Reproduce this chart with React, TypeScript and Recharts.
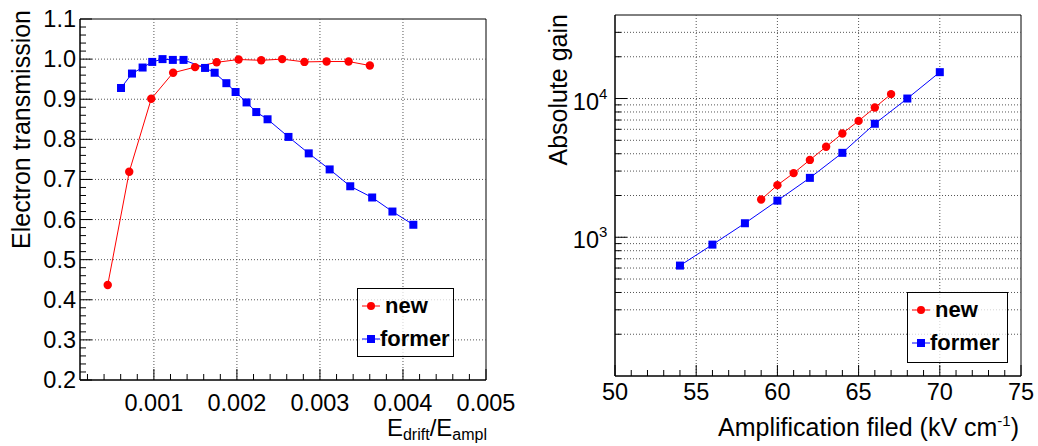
import React from "react";
import { LineChart, Line, XAxis, YAxis, ReferenceLine, ReferenceArea } from "recharts";

// left panel: electron transmission vs E_drift/E_ampl
const ratioNew = [0.000444, 0.000703, 0.000968, 0.001232, 0.001496, 0.001756, 0.00202, 0.002293, 0.002545, 0.002813, 0.00308, 0.003345, 0.003601];
const transNew = [0.437, 0.719, 0.901, 0.966, 0.98, 0.992, 0.999, 0.997, 1.0, 0.993, 0.994, 0.994, 0.984];
const ratioFormer = [0.000604, 0.000736, 0.000864, 0.00098, 0.001104, 0.001228, 0.001357, 0.001616, 0.001732, 0.001873, 0.001984, 0.002116, 0.002233, 0.002369, 0.002621, 0.002865, 0.003117, 0.003365, 0.003629, 0.003873, 0.004125];
const transFormer = [0.928, 0.964, 0.979, 0.993, 1.0, 0.998, 0.998, 0.978, 0.966, 0.94, 0.918, 0.892, 0.868, 0.85, 0.806, 0.765, 0.725, 0.683, 0.655, 0.62, 0.587];

// right panel: absolute gain vs amplification field
const fieldNew = [59, 60, 61, 62, 63, 64, 65, 66, 67];
const gainNew = [1870, 2375, 2900, 3610, 4490, 5600, 6900, 8610, 10760];
const fieldFormer = [54, 56, 58, 60, 62, 64, 66, 68, 70];
const gainFormer = [625, 885, 1262, 1836, 2680, 4060, 6580, 10000, 15490];

// axes
const leftXMajor = [0.001, 0.002, 0.003, 0.004, 0.005];
const leftXLabels = ["0.001", "0.002", "0.003", "0.004", "0.005"];
const leftYMajor = [0.2, 0.3, 0.4, 0.5, 0.6, 0.7, 0.8, 0.9, 1.0, 1.1];
const leftYLabels = ["0.2", "0.3", "0.4", "0.5", "0.6", "0.7", "0.8", "0.9", "1.0", "1.1"];
const rightXMajor = [50, 55, 60, 65, 70, 75];
const rightXLabels = ["50", "55", "60", "65", "70", "75"];
const rightYMajor = [1000, 10000];
const rightYExp = ["3", "4"];
const rightYGrid = [200, 300, 400, 500, 600, 700, 800, 900, 1000, 2000, 3000, 4000, 5000, 6000, 7000, 8000, 9000, 10000, 20000, 30000];

const leftXTicks = Array.from({ length: 25 }, (_, i) => Math.round((i + 1) * 2) / 10000);
const leftYTicks = Array.from({ length: 46 }, (_, i) => Math.round(20 + i * 2) / 100);
const rightXTicks = Array.from({ length: 26 }, (_, i) => 50 + i);

const FONT = "'Liberation Sans', Arial, Helvetica, sans-serif";
const GRID = "#555";

const near = (arr: number[], v: number) => arr.findIndex((m) => Math.abs(m - v) < 1e-9 * Math.max(1, Math.abs(m)));

const bottomTick = (majors: number[], labels: string[], dy: number) => (props: any) => {
  const { x, y, payload } = props;
  const i = near(majors, payload.value);
  return (
    <g>
      <line x1={x} x2={x} y1={y} y2={y - (i >= 0 ? 11 : 6)} stroke="#000" />
      {i >= 0 && (
        <text x={x} y={y + dy} textAnchor="middle" fontSize={23.5} fontFamily={FONT} fill="#000">
          {labels[i]}
        </text>
      )}
    </g>
  );
};

const leftTick = (props: any) => {
  const { x, y, payload } = props;
  const i = near(leftYMajor, payload.value);
  return (
    <g>
      <line x1={x} x2={x + (i >= 0 ? 12 : 6)} y1={y} y2={y} stroke="#000" />
      {i >= 0 && (
        <text x={x - 4} y={y + 8} textAnchor="end" fontSize={23.5} fontFamily={FONT} fill="#000">
          {leftYLabels[i]}
        </text>
      )}
    </g>
  );
};

const logTick = (props: any) => {
  const { x, y, payload } = props;
  const i = near(rightYMajor, payload.value);
  return (
    <g>
      <line x1={x} x2={x + (i >= 0 ? 12 : 6)} y1={y} y2={y} stroke="#000" />
      {i >= 0 && (
        <text x={x - 16} y={y + 11} textAnchor="end" fontSize={23.5} fontFamily={FONT} fill="#000">
          10
        </text>
      )}
      {i >= 0 && (
        <text x={x - 16} y={y} textAnchor="start" fontSize={15} fontFamily={FONT} fill="#000">
          {rightYExp[i]}
        </text>
      )}
    </g>
  );
};

const Circle = (props: any) => <circle key={props.index} cx={props.cx} cy={props.cy} r={4.2} fill="#ff0000" />;
const Square = (props: any) => <rect key={props.index} x={props.cx - 4} y={props.cy - 4} width={8} height={8} fill="#0000ff" />;

const LegendBox = ({ left, top, width, height }: { left: number; top: number; width: number; height: number }) => (
  <div
    style={{
      position: "absolute",
      left,
      top,
      width,
      height,
      boxSizing: "border-box",
      border: "1px solid #000",
      background: "rgba(255,255,255,0.75)",
      fontFamily: FONT,
      fontWeight: "bold",
      fontSize: 22,
    }}
  >
    {[
      { name: "new", color: "#ff0000", dx: 27 },
      { name: "former", color: "#0000ff", dx: 22 },
    ].map((e, k) => (
      <div key={e.name} style={{ position: "absolute", left: 0, top: k === 0 ? 4 : 37, height: 26, width: "100%" }}>
        <svg width={20} height={26} style={{ position: "absolute", left: 3, top: 0 }}>
          <line x1={1} x2={19} y1={13} y2={13} stroke={e.color} />
          {k === 0 ? <circle cx={10} cy={13} r={4} fill={e.color} /> : <rect x={6} y={9} width={8} height={8} fill={e.color} />}
        </svg>
        <span style={{ position: "absolute", left: e.dx, top: 0, lineHeight: "26px" }}>{e.name}</span>
      </div>
    ))}
  </div>
);

const newLeft = ratioNew.map((x, i) => ({ x, y: transNew[i] }));
const formerLeft = ratioFormer.map((x, i) => ({ x, y: transFormer[i] }));
const newRight = fieldNew.map((x, i) => ({ x, y: gainNew[i] }));
const formerRight = fieldFormer.map((x, i) => ({ x, y: gainFormer[i] }));

const App = () => {
  return (
    <div style={{ position: "absolute", left: 0, top: 0, width: 1038, height: 446, background: "#fff" }}>
      <div style={{ position: "absolute", left: 0, top: 0 }}>
        <LineChart width={519} height={446} margin={{ top: 19, right: 33, bottom: 16, left: 10 }}>
          <XAxis
            type="number"
            dataKey="x"
            domain={[0.00011, 0.005]}
            ticks={leftXTicks}
            interval={0}
            allowDataOverflow
            height={50}
            tickSize={0}
            tickMargin={0}
            tickLine={false}
            axisLine={{ stroke: "#000" }}
            tick={bottomTick(leftXMajor, leftXLabels, 31)}
            label={(p: any) => (
              <text x={p.viewBox.x + p.viewBox.width + 1} y={p.viewBox.y + 56} textAnchor="end" fontSize={24} fontFamily={FONT} fill="#000">
                E<tspan dy={4} fontSize={16}>drift</tspan>
                <tspan dy={-4}>/E</tspan>
                <tspan dy={4} fontSize={16}>ampl</tspan>
              </text>
            )}
          />
          <YAxis
            type="number"
            dataKey="y"
            domain={[0.2, 1.1]}
            ticks={leftYTicks}
            interval={0}
            allowDataOverflow
            width={70}
            tickSize={0}
            tickMargin={0}
            tickLine={false}
            axisLine={{ stroke: "#000" }}
            tick={leftTick}
            label={(p: any) => {
              const tx = p.viewBox.x + 20;
              const ty = p.viewBox.y - 9;
              return (
                <text x={tx} y={ty} transform={`rotate(-90 ${tx} ${ty})`} textAnchor="end" fontSize={25} fontFamily={FONT} fill="#000">
                  Electron transmission
                </text>
              );
            }}
          />
          {leftYMajor.slice(1, -1).map((v) => (
            <ReferenceLine key={"h" + v} y={v} stroke={GRID} strokeDasharray="1 2" />
          ))}
          {leftXMajor.slice(0, -1).map((v) => (
            <ReferenceLine key={"v" + v} x={v} stroke={GRID} strokeDasharray="1 2" />
          ))}
          <ReferenceArea x1={0.00011} x2={0.005} y1={0.2} y2={1.1} fill="none" stroke="#000" />
          <Line data={newLeft} dataKey="y" stroke="#ff0000" strokeWidth={1} dot={Circle} isAnimationActive={false} />
          <Line data={formerLeft} dataKey="y" stroke="#0000ff" strokeWidth={1} dot={Square} isAnimationActive={false} />
        </LineChart>
        <LegendBox left={357} top={288} width={97} height={69} />
      </div>
      <div style={{ position: "absolute", left: 519, top: 0 }}>
        <LineChart width={519} height={446} margin={{ top: 15, right: 17, bottom: 15, left: 11 }}>
          <XAxis
            type="number"
            dataKey="x"
            domain={[50, 75]}
            ticks={rightXTicks}
            interval={0}
            allowDataOverflow
            height={55}
            tickSize={0}
            tickMargin={0}
            tickLine={false}
            axisLine={{ stroke: "#000" }}
            tick={bottomTick(rightXMajor, rightXLabels, 24)}
            label={(p: any) => (
              <text x={p.viewBox.x + p.viewBox.width - 2} y={p.viewBox.y + 60} textAnchor="end" fontSize={25} fontFamily={FONT} fill="#000">
                Amplification filed (kV cm<tspan dy={-10} fontSize={15}>-1</tspan>
                <tspan dy={10}>)</tspan>
              </text>
            )}
          />
          <YAxis
            type="number"
            dataKey="y"
            scale="log"
            domain={[100, 40000]}
            ticks={rightYGrid}
            interval={0}
            allowDataOverflow
            width={85}
            tickSize={0}
            tickMargin={0}
            tickLine={false}
            axisLine={{ stroke: "#000" }}
            tick={logTick}
            label={(p: any) => {
              const tx = p.viewBox.x + 37;
              const ty = p.viewBox.y - 1;
              return (
                <text x={tx} y={ty} transform={`rotate(-90 ${tx} ${ty})`} textAnchor="end" fontSize={25} fontFamily={FONT} fill="#000">
                  Absolute gain
                </text>
              );
            }}
          />
          {rightYGrid.map((v) => (
            <ReferenceLine key={"h" + v} y={v} stroke={GRID} strokeDasharray="1 2" />
          ))}
          {rightXMajor.slice(1, -1).map((v) => (
            <ReferenceLine key={"v" + v} x={v} stroke={GRID} strokeDasharray="1 2" />
          ))}
          <ReferenceArea x1={50} x2={75} y1={100} y2={40000} fill="none" stroke="#000" />
          <Line data={newRight} dataKey="y" stroke="#ff0000" strokeWidth={1} dot={Circle} isAnimationActive={false} />
          <Line data={formerRight} dataKey="y" stroke="#0000ff" strokeWidth={1} dot={Square} isAnimationActive={false} />
        </LineChart>
        <LegendBox left={388} top={292} width={101} height={71} />
      </div>
    </div>
  );
};

export default App;
